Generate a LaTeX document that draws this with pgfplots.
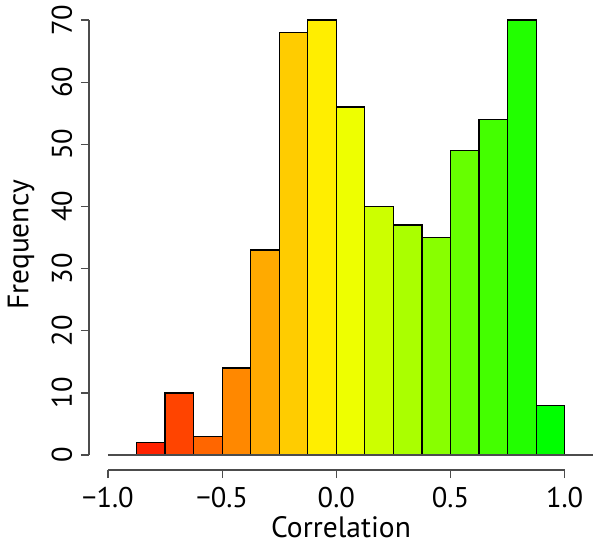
\documentclass[border=0pt]{standalone}
\usepackage{pgfplots}
\pgfplotsset{compat=1.18}
\usepackage{fontspec}
\setmainfont{PT Sans}
\definecolor{c1}{HTML}{FF2200}
\definecolor{c2}{HTML}{FF4400}
\definecolor{c3}{HTML}{FF6600}
\definecolor{c4}{HTML}{FF8800}
\definecolor{c5}{HTML}{FFAA00}
\definecolor{c6}{HTML}{FFCC00}
\definecolor{c7}{HTML}{FFEE00}
\definecolor{c8}{HTML}{EEFF00}
\definecolor{c9}{HTML}{CCFF00}
\definecolor{c10}{HTML}{AAFF00}
\definecolor{c11}{HTML}{88FF00}
\definecolor{c12}{HTML}{66FF00}
\definecolor{c13}{HTML}{44FF00}
\definecolor{c14}{HTML}{22FF00}
\definecolor{c15}{HTML}{00FF00}
\begin{document}
\begin{tikzpicture}
\begin{axis}[
  scale only axis, width=201.6pt, height=180pt,
  xmin=-1.083, xmax=1.124, ymin=-2.41, ymax=70,
  clip=false,
  axis x line*=bottom, axis y line*=left,
  axis line style={draw=none},
  tick align=outside, major tick length=3.2pt,
  tick style={black!70, line width=0.5pt},
  xtick={-1,-0.5,0,0.5,1},
  xticklabels={−1.0,−0.5,0.0,0.5,1.0},
  ytick={0,10,20,30,40,50,60,70},
  /pgf/number format/assume math mode=true,
  yticklabel style={rotate=90, anchor=south},
  ticklabel style={font=\fontsize{11.4}{13}\selectfont},
  label style={font=\fontsize{11.8}{14}\selectfont},
  xlabel style={yshift=3.2pt},
  xlabel={Correlation}, ylabel={Frequency},
  ybar, bar width=0.125, bar shift=0pt,
  every axis plot/.append style={draw=black, line width=0.5pt},
]
\addplot[fill=c1] coordinates {(-0.8125,2)};
\addplot[fill=c2] coordinates {(-0.6875,10)};
\addplot[fill=c3] coordinates {(-0.5625,3)};
\addplot[fill=c4] coordinates {(-0.4375,14)};
\addplot[fill=c5] coordinates {(-0.3125,33)};
\addplot[fill=c6] coordinates {(-0.1875,68)};
\addplot[fill=c7] coordinates {(-0.0625,70)};
\addplot[fill=c8] coordinates {(0.0625,56)};
\addplot[fill=c9] coordinates {(0.1875,40)};
\addplot[fill=c10] coordinates {(0.3125,37)};
\addplot[fill=c11] coordinates {(0.4375,35)};
\addplot[fill=c12] coordinates {(0.5625,49)};
\addplot[fill=c13] coordinates {(0.6875,54)};
\addplot[fill=c14] coordinates {(0.8125,70)};
\addplot[fill=c15] coordinates {(0.9375,8)};
\draw[black!70, line width=0.5pt] (axis cs:-1,0) -- (axis cs:1.124,0);
\draw[black!70, line width=0.5pt] (axis cs:-1,-2.41) -- (axis cs:1,-2.41);
\draw[black!70, line width=0.5pt] (axis cs:-1.083,0) -- (axis cs:-1.083,70);
\end{axis}
\pgfresetboundingbox
\path ([shift={(-35.6pt,-31.6pt)}]current axis.south west) rectangle ([shift={(2.8pt,8pt)}]current axis.north east);
\end{tikzpicture}
\end{document}
